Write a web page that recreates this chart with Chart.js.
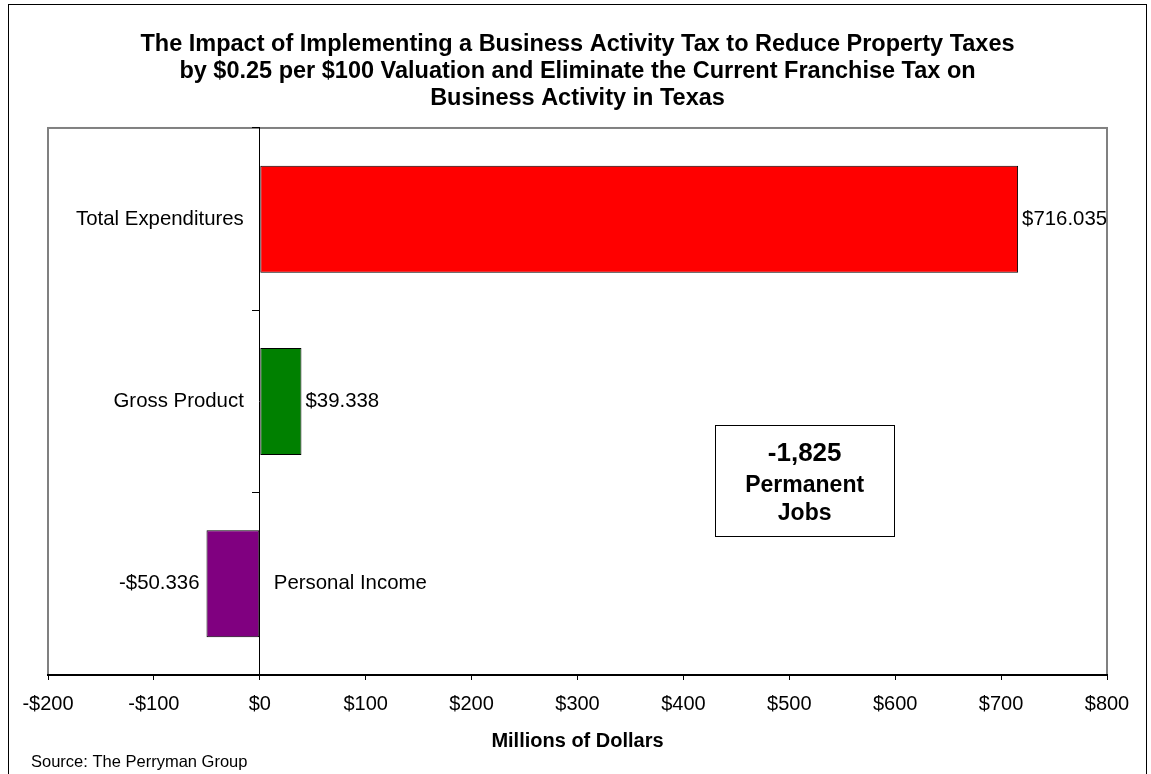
<!DOCTYPE html>
<html>
<head>
<meta charset="utf-8">
<title>Business Activity Tax impact</title>
<script src="https://cdn.jsdelivr.net/npm/chart.js@4/dist/chart.umd.min.js"></script>
<style>
  html, body { margin: 0; padding: 0; background: #fff; }
  #wrap { width: 1151px; height: 774px; }
</style>
</head>
<body>
<div id="wrap"><canvas id="chart" width="1151" height="774"></canvas></div>
<script>
// business activity tax: impact on the Texas economy, millions of dollars

const categories = ["Total Expenditures", "Gross Product", "Personal Income"];
const values = [716.035, 39.338, -50.336];
const barColors = ["#ff0000", "#008000", "#800080"];
const xTickValues = [-200, -100, 0, 100, 200, 300, 400, 500, 600, 700, 800];

const titleLines = [
  "The Impact of Implementing a Business Activity Tax to Reduce Property Taxes",
  "by $0.25 per $100 Valuation and Eliminate the Current Franchise Tax on",
  "Business Activity in Texas"
];
const axisTitle = "Millions of Dollars";
const jobsNote = ["-1,825", "Permanent", "Jobs"];
const sourceNote = "Source: The Perryman Group";

const FONT = '"Liberation Sans", Arial, Helvetica, sans-serif';
Chart.defaults.font.family = FONT;
Chart.defaults.color = "#000";

function money(v, digits) {
  const s = "$" + Math.abs(v).toFixed(digits);
  return v < 0 ? "-" + s : s;
}

// outer frame and grey plot-area box
const frames = {
  id: "frames",
  beforeDraw(chart) {
    const { ctx, chartArea: a } = chart;
    ctx.save();
    ctx.fillStyle = "#fff";
    ctx.fillRect(0, 0, chart.width, chart.height);
    ctx.strokeStyle = "#000";
    ctx.lineWidth = 1;
    ctx.strokeRect(8.5, 4.5, 1138, chart.height + 10);
    ctx.strokeStyle = "#808080";
    ctx.lineWidth = 2;
    ctx.strokeRect(a.left, a.top, a.right - a.left, a.bottom - a.top);
    ctx.restore();
  }
};

// value labels at the bar ends, category names beside the zero line
const barLabels = {
  id: "barLabels",
  afterDatasetsDraw(chart) {
    const { ctx } = chart;
    const zero = chart.scales.x.getPixelForValue(0);
    const bars = chart.getDatasetMeta(0).data;
    ctx.save();
    ctx.font = "20.4px " + FONT;
    ctx.fillStyle = "#000";
    ctx.textBaseline = "middle";
    bars.forEach((bar, i) => {
      const v = values[i];
      if (v >= 0) {
        ctx.textAlign = "left";
        ctx.fillText(money(v, 3), bar.x + 4, bar.y);
        ctx.textAlign = "right";
        ctx.fillText(categories[i], zero - 16, bar.y);
      } else {
        ctx.textAlign = "right";
        ctx.fillText(money(v, 3), bar.x - 7, bar.y);
        ctx.textAlign = "left";
        ctx.fillText(categories[i], zero + 14, bar.y);
      }
    });
    ctx.restore();
  }
};

// jobs callout box and the source line
const notes = {
  id: "notes",
  afterDraw(chart) {
    const { ctx, chartArea: a } = chart;
    const w = a.right - a.left, h = a.bottom - a.top;
    const x0 = a.left + w * 0.63, x1 = a.left + w * 0.799;
    const y0 = a.top + h * 0.543, y1 = a.top + h * 0.746;
    const cx = (x0 + x1) / 2;
    ctx.save();
    ctx.fillStyle = "#fff";
    ctx.fillRect(x0, y0, x1 - x0, y1 - y0);
    ctx.strokeStyle = "#000";
    ctx.lineWidth = 1;
    ctx.strokeRect(Math.round(x0) + 0.5, Math.round(y0) + 0.5, Math.round(x1 - x0), Math.round(y1 - y0));
    ctx.fillStyle = "#000";
    ctx.textAlign = "center";
    ctx.textBaseline = "alphabetic";
    ctx.font = "bold 26px " + FONT;
    ctx.fillText(jobsNote[0], cx, y0 + 36);
    ctx.font = "bold 23px " + FONT;
    ctx.fillText(jobsNote[1], cx, y0 + 67);
    ctx.fillText(jobsNote[2], cx, y0 + 95);

    ctx.textAlign = "left";
    ctx.font = "16.5px " + FONT;
    ctx.fillText(sourceNote, 31, 767);
    ctx.restore();
  }
};

new Chart(document.getElementById("chart"), {
  type: "bar",
  data: {
    labels: categories,
    datasets: [{
      data: values,
      backgroundColor: barColors,
      borderColor: "#000",
      borderWidth: 1,
      borderSkipped: false,
      categoryPercentage: 1,
      barPercentage: 0.587
    }]
  },
  options: {
    indexAxis: "y",
    responsive: false,
    animation: false,
    layout: { padding: { left: 48, right: 44, top: 0, bottom: 0 } },
    plugins: {
      legend: { display: false },
      tooltip: { enabled: false },
      title: {
        display: true,
        text: titleLines,
        color: "#000",
        font: { size: 23.5, weight: "bold", lineHeight: 1.15 },
        padding: { top: 31, bottom: 15.9 }
      }
    },
    scales: {
      x: {
        type: "linear",
        min: -200,
        max: 800,
        afterBuildTicks: s => { s.ticks = xTickValues.map(v => ({ value: v })); },
        afterFit: s => { s.height = 99; },
        ticks: {
          font: { size: 20, lineHeight: 1.2 },
          padding: 12,
          maxRotation: 0,
          callback: v => money(v, 0)
        },
        grid: { drawOnChartArea: false, tickLength: 5, color: "#000", lineWidth: 1 },
        border: { display: true, color: "#000", width: 2 },
        title: {
          display: true,
          text: axisTitle,
          font: { size: 20, weight: "bold", lineHeight: 1.2 },
          padding: { top: 0, bottom: 21 }
        }
      },
      y: {
        type: "category",
        position: { x: 0 },
        ticks: { display: false },
        grid: { drawOnChartArea: false, tickLength: 7, color: "#000", lineWidth: 1 },
        border: { display: true, color: "#000", width: 1 }
      }
    }
  },
  plugins: [frames, barLabels, notes]
});
</script>
</body>
</html>
